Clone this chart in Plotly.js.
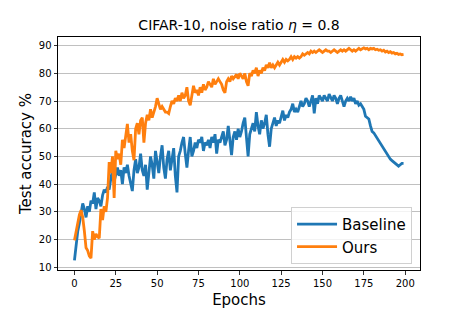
<!DOCTYPE html>
<html>
<head>
<meta charset="utf-8">
<script src="https://cdn.plot.ly/plotly-3.0.1.min.js"></script>
<style>html,body{margin:0;padding:0;background:#fff;}#chart{width:466px;height:311px;}</style>
</head>
<body>
<div id="chart"></div>
<script>
const seriesNames = ["Baseline", "Ours"];
const xTicks = [0, 25, 50, 75, 100, 125, 150, 175, 200];
const yTicks = [10, 20, 30, 40, 50, 60, 70, 80, 90];

const baseline = [
12.5,19,23,26,30,33,31,28,32,30,
34,33,37,31,35,34,32,36,38,37,
39,38,42,45,41,44,46,43,45,40,
46,44,47,43,40,37.5,45,49,44,46,
51,45,43,47,38,45,50,47,42,52,
48,44,50,54,46,42,49,52,45,50,
53,43,37,50,52,55,57,51,46,52,
57,50,52,55,53,56,55,57,52,55,
54,56,53,57,55,58,51,56,55,57,
59,54,56,61,56,50.5,57,59,56,60,
57,59,62,64,57,50,58,60,62,59,
66,61,58,63,60,62,65,58,53.5,60,
62,64,61,63,62,64,66.5,63,65,64,
66,67,69,66,67,66,68,70,68,69,
71,70,68,70,72,65.5,71,69,72,71,
70,72,71,70,72.5,71,70,72,71,69,
71,72,70,68,70,71,70,71.5,70,71,
69,70,68.5,69,68,67,64.5,64,63.5,61,
59,58.5,57.5,56.5,55.5,55,54,52.5,51.5,51,
50,49,48.5,48,47.5,47,46.5,47,47.5,47.5
];

const ours = [
19.7,23,27,29,30.6,28,23,17,16,14,
13.3,23,20,22,21,20.5,31,27,32,30,
35,48,44,50,35,52,49,51,47,56,
53,58,61.7,55,58,52,48.6,60,62,58,
63,64,55,62,65,63,67,64,66,68,
71,69,67,68,67,66,66,65.5,68,70,
69,71,70,72,70,73,71,72,75,70,
68.5,72,75.5,73,74,72,75,73,76,74,
75,77,76,75,78,76,77,78,77,76,
74,73,77,78,77,79,78,79,79.6,78,
80,79,78,80,77,75.5,80,79,81,80,
82,79,81,80,82,81,83,82,83.8,82,
83,82,83,84,83,84,85,84,85,84.5,
85,86,85,86,85.5,86,85.5,86,87,86.5,
87,87.5,87,88,87.5,88,87.5,88,88.5,88,
87.5,88,88.5,88,88,87.5,88,88.5,88,87.5,
88,88.5,88,88.5,88,88.5,89,88.5,88,88.5,
88,88.5,89,88.5,89,89.2,88.8,89,88.5,89,
88.8,89,88.5,88.7,88.3,88.5,88,88.3,87.7,88,
87.5,87.8,87.3,87.5,87,87.2,86.8,87,86.7,86.8
];

const epochs = baseline.map((_, i) => i);

const font = "DejaVu Sans, sans-serif";

const traces = [
  {x: epochs, y: baseline, name: seriesNames[0], type: "scatter", mode: "lines",
   line: {color: "#1f77b4", width: 2.8}},
  {x: epochs, y: ours, name: seriesNames[1], type: "scatter", mode: "lines",
   line: {color: "#ff7f0e", width: 2.8}}
];

const layout = {
  width: 466, height: 311,
  margin: {l: 58, r: 46, t: 37, b: 41},
  paper_bgcolor: "#fff", plot_bgcolor: "#fff",
  font: {family: font, color: "#000", size: 10},
  title: {text: "CIFAR-10, noise ratio <i>η</i> = 0.8", font: {family: font, size: 14, color: "#000"},
          x: 0.513, xanchor: "center", y: 0.92, yanchor: "middle", yref: "container"},
  xaxis: {range: [-9.95, 208.95], tickvals: xTicks, ticktext: xTicks.map(String),
          ticks: "outside", ticklen: 3.5, tickwidth: 0.8, tickcolor: "#000",
          showline: true, linecolor: "#000", linewidth: 1, mirror: true,
          showgrid: false, zeroline: false,
          tickfont: {family: font, size: 10, color: "#000"},
          title: {text: "Epochs", font: {family: font, size: 15, color: "#000"}, standoff: 6}},
  yaxis: {range: [9.0, 93.1], tickvals: yTicks, ticktext: yTicks.map(String),
          ticks: "outside", ticklen: 3.5, tickwidth: 0.8, tickcolor: "#000",
          showline: true, linecolor: "#000", linewidth: 1, mirror: true,
          showgrid: true, gridcolor: "#b0b0b0", gridwidth: 0.8, zeroline: false,
          tickfont: {family: font, size: 10, color: "#000"},
          title: {text: "Test accuracy %", font: {family: font, size: 15, color: "#000"}, standoff: 3}},
  showlegend: true,
  legend: {x: 0.978, y: 0.026, xanchor: "right", yanchor: "bottom",
           bgcolor: "rgba(255,255,255,0.8)", bordercolor: "#d0d0d0", borderwidth: 1,
           font: {family: font, size: 15, color: "#000"}, itemwidth: 40, tracegroupgap: 0}
};

Plotly.newPlot("chart", traces, layout, {displayModeBar: false, staticPlot: true});
</script>
</body>
</html>
